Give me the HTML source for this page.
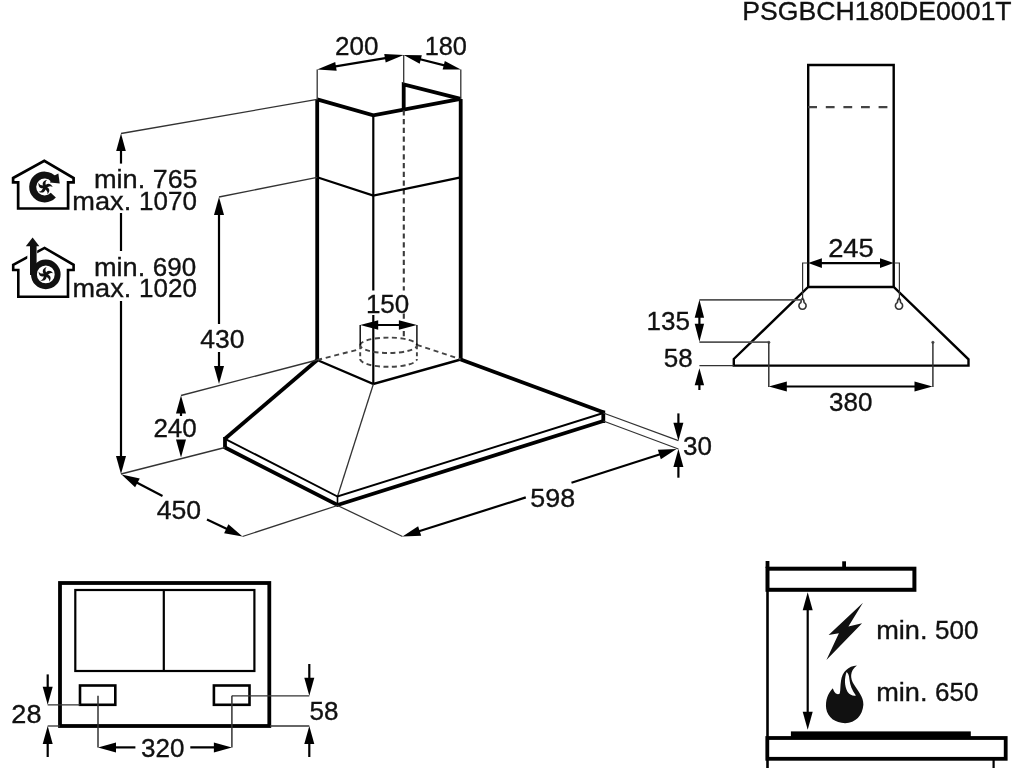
<!DOCTYPE html>
<html><head><meta charset="utf-8"><style>
html,body{margin:0;padding:0;background:#fff;width:1024px;height:768px;overflow:hidden}
svg{display:block;will-change:transform}
text{font-family:"Liberation Sans",sans-serif;fill:#111;stroke:#111;stroke-width:0.35px}
</style></head><body>
<svg width="1024" height="768" viewBox="0 0 1024 768" shape-rendering="geometricPrecision">
<text x="742.35" y="19.8" font-size="26" textLength="269.18" lengthAdjust="spacingAndGlyphs">PSGBCH180DE0001T</text>
<polyline points="317.20,99.40 317.20,360.00" fill="none" stroke="#000" stroke-width="3.8" stroke-linejoin="miter" />
<polyline points="460.70,98.90 460.70,359.50" fill="none" stroke="#000" stroke-width="3.8" stroke-linejoin="miter" />
<polyline points="317.20,99.40 373.30,115.30 460.70,98.90" fill="none" stroke="#000" stroke-width="3.8" stroke-linejoin="miter" />
<polyline points="403.70,109.50 403.70,84.50 460.70,98.90" fill="none" stroke="#000" stroke-width="3.8" stroke-linejoin="miter" stroke-linejoin="bevel"/>
<line x1="373.30" y1="115.30" x2="373.30" y2="290.50" stroke="#000" stroke-width="2.2" />
<line x1="373.30" y1="315.00" x2="373.30" y2="384.00" stroke="#000" stroke-width="2.2" />
<line x1="403.80" y1="110.20" x2="403.80" y2="290.50" stroke="#3a3a3a" stroke-width="2.1" stroke-dasharray="5.2,3.6"/>
<line x1="403.80" y1="313.50" x2="403.80" y2="337.50" stroke="#3a3a3a" stroke-width="2.1" stroke-dasharray="5.2,3.6"/>
<polyline points="317.20,177.30 373.30,195.60 460.70,177.30" fill="none" stroke="#000" stroke-width="2.2" stroke-linejoin="miter" />
<polyline points="317.20,360.00 373.40,384.00 460.70,359.50" fill="none" stroke="#000" stroke-width="2.4" stroke-linejoin="miter" />
<line x1="317.20" y1="360.00" x2="359.30" y2="349.30" stroke="#444" stroke-width="1.9" stroke-dasharray="5,3.8"/>
<line x1="416.90" y1="344.80" x2="460.70" y2="359.30" stroke="#444" stroke-width="1.9" stroke-dasharray="5,3.8"/>
<path d="M360.2,345.3 A28.3,7.7 0 0 1 416.9,345.3 A28.3,7.7 0 0 1 360.2,345.3" fill="none" stroke="#444" stroke-width="1.9" stroke-dasharray="5,3.5"/>
<path d="M360.2,359.1 A28.3,7.7 0 0 0 416.9,359.1" fill="none" stroke="#444" stroke-width="1.9" stroke-dasharray="5,3.5"/>
<line x1="360.20" y1="345.30" x2="360.20" y2="359.10" stroke="#444" stroke-width="1.9" stroke-dasharray="4,3"/>
<line x1="416.90" y1="345.30" x2="416.90" y2="359.10" stroke="#444" stroke-width="1.9" stroke-dasharray="4,3"/>
<line x1="360.20" y1="325.00" x2="360.20" y2="345.30" stroke="#000" stroke-width="1.4" />
<line x1="416.90" y1="325.00" x2="416.90" y2="345.30" stroke="#000" stroke-width="1.4" />
<line x1="369.20" y1="325.00" x2="407.90" y2="325.00" stroke="#000" stroke-width="2.2" />
<polygon points="360.20,325.00 378.20,320.25 378.20,329.75" fill="#000"/>
<polygon points="416.90,325.00 398.90,329.75 398.90,320.25" fill="#000"/>
<text x="365.90" y="312.7" font-size="26">150</text>
<polyline points="317.20,360.00 225.00,438.80" fill="none" stroke="#000" stroke-width="3.8" stroke-linejoin="miter" />
<polyline points="460.70,359.50 603.30,412.30" fill="none" stroke="#000" stroke-width="3.8" stroke-linejoin="miter" />
<line x1="373.40" y1="384.00" x2="337.50" y2="496.50" stroke="#333" stroke-width="1.3" />
<polyline points="225.00,438.80 337.50,496.50 603.30,413.00" fill="none" stroke="#000" stroke-width="1.9" stroke-linejoin="miter" />
<polyline points="225.00,447.50 337.50,505.00 603.30,421.00" fill="none" stroke="#000" stroke-width="3.8" stroke-linejoin="miter" />
<line x1="225.00" y1="437.00" x2="225.00" y2="449.00" stroke="#000" stroke-width="3.8" />
<line x1="603.30" y1="410.50" x2="603.30" y2="423.00" stroke="#000" stroke-width="3.8" />
<line x1="337.50" y1="496.50" x2="337.50" y2="504.00" stroke="#000" stroke-width="1.6" />
<line x1="121.00" y1="133.50" x2="317.20" y2="99.40" stroke="#333" stroke-width="1.3" />
<line x1="219.00" y1="197.00" x2="317.20" y2="177.30" stroke="#333" stroke-width="1.3" />
<line x1="181.00" y1="395.50" x2="317.20" y2="360.00" stroke="#333" stroke-width="1.3" />
<line x1="121.00" y1="474.00" x2="225.00" y2="447.50" stroke="#333" stroke-width="1.3" />
<line x1="242.50" y1="536.50" x2="337.50" y2="505.50" stroke="#333" stroke-width="1.3" />
<line x1="337.50" y1="505.50" x2="402.50" y2="536.50" stroke="#333" stroke-width="1.3" />
<line x1="603.30" y1="413.00" x2="678.40" y2="440.70" stroke="#333" stroke-width="1.3" />
<line x1="603.30" y1="421.00" x2="678.40" y2="449.00" stroke="#333" stroke-width="1.3" />
<line x1="317.20" y1="69.50" x2="317.20" y2="99.40" stroke="#333" stroke-width="1.3" />
<line x1="403.70" y1="55.10" x2="403.70" y2="83.60" stroke="#333" stroke-width="1.3" />
<line x1="460.80" y1="69.50" x2="460.80" y2="98.90" stroke="#333" stroke-width="1.3" />
<line x1="326.57" y1="67.94" x2="394.33" y2="56.66" stroke="#000" stroke-width="2.2" />
<polygon points="317.20,69.50 335.22,62.04 336.66,70.72" fill="#000"/>
<polygon points="403.70,55.10 385.68,62.56 384.24,53.88" fill="#000"/>
<line x1="412.23" y1="57.25" x2="452.27" y2="67.35" stroke="#000" stroke-width="2.2" />
<polygon points="403.70,55.10 421.84,55.14 419.69,63.67" fill="#000"/>
<polygon points="460.80,69.50 442.66,69.46 444.81,60.93" fill="#000"/>
<text x="335.00" y="54.6" font-size="26">200</text>
<text x="424.65" y="54.6" font-size="26" textLength="42.33" lengthAdjust="spacingAndGlyphs">180</text>
<line x1="121.00" y1="142.30" x2="121.00" y2="163.60" stroke="#000" stroke-width="2.2" />
<polygon points="121.00,133.50 125.80,151.10 116.20,151.10" fill="#000"/>
<line x1="121.00" y1="213.00" x2="121.00" y2="251.00" stroke="#000" stroke-width="2.2" />
<line x1="121.00" y1="301.00" x2="121.00" y2="465.00" stroke="#000" stroke-width="2.2" />
<polygon points="121.00,474.00 116.00,456.00 126.00,456.00" fill="#000"/>
<text x="93.91" y="187.7" font-size="26" textLength="51.31" lengthAdjust="spacingAndGlyphs">min.</text>
<text x="152.77" y="187.7" font-size="26" textLength="44.66" lengthAdjust="spacingAndGlyphs">765</text>
<text x="72.31" y="210" font-size="26" textLength="58.94" lengthAdjust="spacingAndGlyphs">max.</text>
<text x="139.10" y="210" font-size="26">1070</text>
<text x="93.91" y="275.5" font-size="26" textLength="51.31" lengthAdjust="spacingAndGlyphs">min.</text>
<text x="152.80" y="275.5" font-size="26">690</text>
<text x="72.52" y="297.3" font-size="26" textLength="58.73" lengthAdjust="spacingAndGlyphs">max.</text>
<text x="139.10" y="297.3" font-size="26">1020</text>
<line x1="219.00" y1="206.00" x2="219.00" y2="324.00" stroke="#000" stroke-width="2.2" />
<polygon points="219.00,197.00 224.00,215.00 214.00,215.00" fill="#000"/>
<line x1="219.00" y1="352.00" x2="219.00" y2="375.00" stroke="#000" stroke-width="2.2" />
<polygon points="219.00,384.00 214.00,366.00 224.00,366.00" fill="#000"/>
<text x="200.28" y="347.9" font-size="26" textLength="44.22" lengthAdjust="spacingAndGlyphs">430</text>
<line x1="181.00" y1="404.50" x2="181.00" y2="416.00" stroke="#000" stroke-width="2.2" />
<polygon points="181.00,395.50 186.00,413.50 176.00,413.50" fill="#000"/>
<line x1="181.00" y1="441.00" x2="181.00" y2="448.50" stroke="#000" stroke-width="2.2" />
<polygon points="181.00,457.50 176.00,439.50 186.00,439.50" fill="#000"/>
<text x="153.40" y="436.8" font-size="26">240</text>
<line x1="129.47" y1="478.68" x2="162.50" y2="496.00" stroke="#000" stroke-width="2.2" />
<polygon points="121.50,474.50 139.76,478.43 135.12,487.29" fill="#000"/>
<line x1="207.00" y1="519.50" x2="234.38" y2="532.61" stroke="#000" stroke-width="2.2" />
<polygon points="242.50,536.50 224.11,533.24 228.42,524.22" fill="#000"/>
<text x="156.78" y="519.4" font-size="26" textLength="44.42" lengthAdjust="spacingAndGlyphs">450</text>
<line x1="411.08" y1="533.78" x2="525.80" y2="497.40" stroke="#000" stroke-width="2.2" />
<polygon points="402.50,536.50 418.12,526.25 421.17,535.78" fill="#000"/>
<line x1="571.50" y1="482.80" x2="667.93" y2="451.76" stroke="#000" stroke-width="2.2" />
<polygon points="676.50,449.00 660.83,459.18 657.83,449.64" fill="#000"/>
<text x="530.37" y="506.8" font-size="26" textLength="44.77" lengthAdjust="spacingAndGlyphs">598</text>
<line x1="678.40" y1="413.40" x2="678.40" y2="431.70" stroke="#000" stroke-width="2.2" />
<polygon points="678.40,440.70 673.40,422.70 683.40,422.70" fill="#000"/>
<line x1="678.40" y1="458.00" x2="678.40" y2="477.70" stroke="#000" stroke-width="2.2" />
<polygon points="678.40,449.00 683.40,467.00 673.40,467.00" fill="#000"/>
<text x="683.00" y="455" font-size="26">30</text>
<polyline points="808.20,287.00 808.20,65.00 893.70,65.00 893.70,287.00" fill="none" stroke="#000" stroke-width="2.4000000000000004" stroke-linejoin="miter" />
<line x1="808.20" y1="107.20" x2="893.70" y2="107.20" stroke="#444" stroke-width="2.2" stroke-dasharray="8.8,8.8"/>
<polygon points="733.80,359.00 808.20,287.00 893.70,287.00 968.50,359.30 968.50,365.60 733.80,365.60 733.80,359.00" fill="none" stroke="#000" stroke-width="2.4" stroke-linejoin="miter" />
<line x1="815.05" y1="263.10" x2="886.85" y2="263.10" stroke="#000" stroke-width="2.2" />
<polygon points="808.20,263.10 821.90,258.30 821.90,267.90" fill="#000"/>
<polygon points="893.70,263.10 880.00,267.90 880.00,258.30" fill="#000"/>
<text x="828.15" y="256.6" font-size="26" textLength="45.61" lengthAdjust="spacingAndGlyphs">245</text>
<polyline points="808.20,263.00 802.60,263.00 802.60,298.00" fill="none" stroke="#333" stroke-width="1.2" stroke-linejoin="miter" />
<polyline points="893.70,263.00 899.40,263.00 899.40,298.00" fill="none" stroke="#333" stroke-width="1.2" stroke-linejoin="miter" />
<path d="M802.5,298.09999999999997 C801.2,299.5 801.0,301.09999999999997 800.9,302.47999999999996 A3.6,3.6 0 1 0 804.1,302.47999999999996 C804.0,301.09999999999997 803.8,299.5 802.5,298.09999999999997 Z" fill="#fff" stroke="#333" stroke-width="1.6" stroke-linejoin="round"/>
<path d="M899.0,298.09999999999997 C897.7,299.5 897.5,301.09999999999997 897.4,302.47999999999996 A3.6,3.6 0 1 0 900.6,302.47999999999996 C900.5,301.09999999999997 900.3,299.5 899.0,298.09999999999997 Z" fill="#fff" stroke="#333" stroke-width="1.6" stroke-linejoin="round"/>
<line x1="699.40" y1="299.80" x2="802.00" y2="299.80" stroke="#555" stroke-width="1.8" />
<line x1="699.40" y1="342.20" x2="768.80" y2="342.20" stroke="#555" stroke-width="1.8" />
<line x1="699.40" y1="365.60" x2="733.80" y2="365.60" stroke="#333" stroke-width="1.3" />
<line x1="699.40" y1="308.80" x2="699.40" y2="332.70" stroke="#000" stroke-width="2.2" />
<polygon points="699.40,299.80 704.10,317.80 694.70,317.80" fill="#000"/>
<polygon points="699.40,341.70 694.70,323.70 704.10,323.70" fill="#000"/>
<polygon points="699.40,368.30 704.10,385.30 694.70,385.30" fill="#000"/>
<line x1="699.40" y1="376.80" x2="699.40" y2="390.00" stroke="#000" stroke-width="2.2" />
<text x="646.60" y="330" font-size="26">135</text>
<text x="663.70" y="366.7" font-size="26">58</text>
<circle cx="768.8" cy="342.2" r="1.5" fill="#555"/>
<circle cx="932.9" cy="342.3" r="1.5" fill="#555"/>
<line x1="768.80" y1="342.20" x2="768.80" y2="387.00" stroke="#333" stroke-width="1.5" />
<line x1="932.90" y1="342.30" x2="932.90" y2="387.00" stroke="#333" stroke-width="1.5" />
<line x1="777.80" y1="386.50" x2="923.50" y2="386.50" stroke="#000" stroke-width="2.2" />
<polygon points="768.80,386.50 786.80,381.50 786.80,391.50" fill="#000"/>
<polygon points="932.50,386.50 914.50,391.50 914.50,381.50" fill="#000"/>
<text x="829.00" y="411" font-size="26">380</text>
<rect x="60" y="583" width="209.3" height="143" fill="none" stroke="#000" stroke-width="3.8"/>
<rect x="75.3" y="590" width="179.1" height="81" fill="none" stroke="#000" stroke-width="2.2"/>
<line x1="163.80" y1="590.00" x2="163.80" y2="671.00" stroke="#000" stroke-width="2.2" />
<rect x="80" y="685.5" width="35.3" height="19.3" fill="none" stroke="#000" stroke-width="2.6"/>
<rect x="213.9" y="685.5" width="35.6" height="19.3" fill="none" stroke="#000" stroke-width="2.6"/>
<line x1="47.70" y1="704.80" x2="80.00" y2="704.80" stroke="#333" stroke-width="1.3" />
<line x1="47.70" y1="726.00" x2="60.00" y2="726.00" stroke="#333" stroke-width="1.3" />
<line x1="270.00" y1="726.00" x2="309.30" y2="726.00" stroke="#333" stroke-width="1.3" />
<line x1="231.90" y1="695.80" x2="309.30" y2="695.80" stroke="#333" stroke-width="1.3" />
<line x1="98.00" y1="695.80" x2="98.00" y2="747.40" stroke="#333" stroke-width="1.5" />
<line x1="107.00" y1="747.40" x2="135.40" y2="747.40" stroke="#000" stroke-width="2.2" />
<line x1="231.90" y1="695.80" x2="231.90" y2="747.40" stroke="#333" stroke-width="1.5" />
<line x1="222.90" y1="747.40" x2="190.30" y2="747.40" stroke="#000" stroke-width="2.2" />
<polygon points="98.00,747.40 116.00,742.40 116.00,752.40" fill="#000"/>
<polygon points="231.90,747.40 213.90,752.40 213.90,742.40" fill="#000"/>
<line x1="47.70" y1="674.40" x2="47.70" y2="695.80" stroke="#000" stroke-width="2.2" />
<polygon points="47.70,704.80 42.70,686.80 52.70,686.80" fill="#000"/>
<line x1="47.70" y1="735.00" x2="47.70" y2="757.00" stroke="#000" stroke-width="2.2" />
<polygon points="47.70,726.00 52.70,744.00 42.70,744.00" fill="#000"/>
<line x1="309.30" y1="664.00" x2="309.30" y2="686.80" stroke="#000" stroke-width="2.2" />
<polygon points="309.30,695.80 304.30,677.80 314.30,677.80" fill="#000"/>
<line x1="309.30" y1="735.00" x2="309.30" y2="757.00" stroke="#000" stroke-width="2.2" />
<polygon points="309.30,726.00 314.30,744.00 304.30,744.00" fill="#000"/>
<text x="11.36" y="722.6" font-size="26" textLength="30.10" lengthAdjust="spacingAndGlyphs">28</text>
<text x="141.00" y="757.1" font-size="26">320</text>
<text x="309.60" y="719.5" font-size="26">58</text>
<rect x="767.5" y="568.7" width="146.9" height="21.1" fill="none" stroke="#000" stroke-width="4"/>
<line x1="767.50" y1="561.00" x2="767.50" y2="568.00" stroke="#000" stroke-width="3.8" />
<line x1="844.10" y1="561.30" x2="844.10" y2="567.00" stroke="#000" stroke-width="3.8" />
<line x1="767.50" y1="589.00" x2="767.50" y2="768.00" stroke="#000" stroke-width="2.6" />
<line x1="807.70" y1="601.30" x2="807.70" y2="720.80" stroke="#000" stroke-width="2.2" />
<polygon points="807.70,592.30 812.70,610.30 802.70,610.30" fill="#000"/>
<polygon points="807.70,729.80 802.70,711.80 812.70,711.80" fill="#000"/>
<rect x="790.9" y="731.4" width="179.9" height="6" fill="#000"/>
<rect x="767.3" y="738" width="238.4" height="20.8" fill="none" stroke="#000" stroke-width="3.8"/>
<line x1="993.60" y1="760.00" x2="993.60" y2="768.00" stroke="#000" stroke-width="2.2" />
<text x="876.21" y="638.6" font-size="26" textLength="51.31" lengthAdjust="spacingAndGlyphs">min.</text>
<text x="935.00" y="638.6" font-size="26">500</text>
<text x="876.21" y="700.8" font-size="26" textLength="51.31" lengthAdjust="spacingAndGlyphs">min.</text>
<text x="935.00" y="700.8" font-size="26">650</text>
<polygon points="862.96,602.7 828.6,634.9 838.9,633.2 826.4,659.9 862.1,623.3 848.4,626.4" fill="#111"/>
<g transform="translate(820,660) scale(0.0859)"><path d="M430,65 C330,70 260,140 245,240 C235,300 240,350 230,390 C210,410 170,400 150,330 C90,390 62,470 72,565 C88,670 180,735 292,735 C415,732 495,645 505,520 C508,430 440,360 392,280 C355,220 340,130 430,65 Z M310,140 C284,210 282,300 322,372 C350,408 385,422 418,414 C372,350 348,290 342,220 C338,180 330,155 310,140 Z" fill="#111" fill-rule="evenodd"/></g>
<polygon points="13.10,178.00 44.30,160.90 73.60,178.00 73.60,182.30 68.10,182.30 68.10,208.50 18.15,208.50 18.15,182.30 13.10,182.30 13.10,178.00" fill="none" stroke="#000" stroke-width="2.7" stroke-linejoin="miter" />
<path d="M53.30,195.12 A11.9,11.9 0 1 1 53.72,179.35" fill="none" stroke="#111" stroke-width="7"/>
<polygon points="58.35,173.6 59.75,183.5 50.0,182.5 52.5,176.5" fill="#111"/>
<path transform="translate(44.9,187.1) rotate(0) scale(1.08)" d="M-0.4,0.4 C-3.1,-2.4 -2.7,-6.0 2.2,-6.9 C-0.1,-5.1 0.5,-2.8 1.5,-0.4 Z" fill="#111"/><path transform="translate(44.9,187.1) rotate(72) scale(1.08)" d="M-0.4,0.4 C-3.1,-2.4 -2.7,-6.0 2.2,-6.9 C-0.1,-5.1 0.5,-2.8 1.5,-0.4 Z" fill="#111"/><path transform="translate(44.9,187.1) rotate(144) scale(1.08)" d="M-0.4,0.4 C-3.1,-2.4 -2.7,-6.0 2.2,-6.9 C-0.1,-5.1 0.5,-2.8 1.5,-0.4 Z" fill="#111"/><path transform="translate(44.9,187.1) rotate(216) scale(1.08)" d="M-0.4,0.4 C-3.1,-2.4 -2.7,-6.0 2.2,-6.9 C-0.1,-5.1 0.5,-2.8 1.5,-0.4 Z" fill="#111"/><path transform="translate(44.9,187.1) rotate(288) scale(1.08)" d="M-0.4,0.4 C-3.1,-2.4 -2.7,-6.0 2.2,-6.9 C-0.1,-5.1 0.5,-2.8 1.5,-0.4 Z" fill="#111"/>
<polygon points="13.20,264.80 44.56,247.90 73.60,264.80 73.60,270.00 68.00,270.00 68.00,296.70 18.30,296.70 18.30,270.00 13.20,270.00 13.20,264.80" fill="none" stroke="#000" stroke-width="2.6" stroke-linejoin="miter" />
<circle cx="45.8" cy="274.4" r="11.85" fill="none" stroke="#fff" stroke-width="0"/>
<rect x="27.3" y="244" width="9.9" height="28" fill="#fff"/>
<circle cx="45.8" cy="274.4" r="11.85" fill="none" stroke="#111" stroke-width="5.9"/>
<line x1="33.30" y1="246.00" x2="33.30" y2="275.00" stroke="#111" stroke-width="6.6" />
<polygon points="32.6,237.6 25.8,246.3 39.4,246.3" fill="#111"/>
<path transform="translate(45.6,274.8) rotate(-10) scale(1.08)" d="M-0.4,0.4 C-3.1,-2.4 -2.7,-6.0 2.2,-6.9 C-0.1,-5.1 0.5,-2.8 1.5,-0.4 Z" fill="#111"/><path transform="translate(45.6,274.8) rotate(62) scale(1.08)" d="M-0.4,0.4 C-3.1,-2.4 -2.7,-6.0 2.2,-6.9 C-0.1,-5.1 0.5,-2.8 1.5,-0.4 Z" fill="#111"/><path transform="translate(45.6,274.8) rotate(134) scale(1.08)" d="M-0.4,0.4 C-3.1,-2.4 -2.7,-6.0 2.2,-6.9 C-0.1,-5.1 0.5,-2.8 1.5,-0.4 Z" fill="#111"/><path transform="translate(45.6,274.8) rotate(206) scale(1.08)" d="M-0.4,0.4 C-3.1,-2.4 -2.7,-6.0 2.2,-6.9 C-0.1,-5.1 0.5,-2.8 1.5,-0.4 Z" fill="#111"/><path transform="translate(45.6,274.8) rotate(278) scale(1.08)" d="M-0.4,0.4 C-3.1,-2.4 -2.7,-6.0 2.2,-6.9 C-0.1,-5.1 0.5,-2.8 1.5,-0.4 Z" fill="#111"/>
</svg></body></html>
